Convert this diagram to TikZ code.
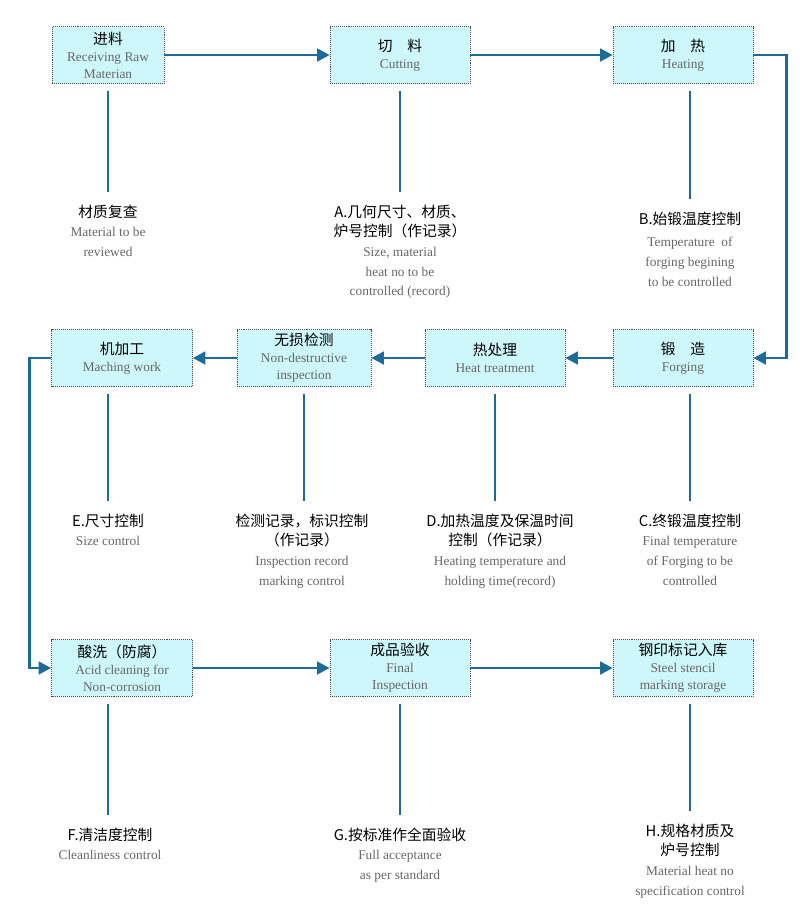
\documentclass[tikz,border=0pt]{standalone}
\usepackage{fontspec}
\setmainfont{Liberation Serif}
\newfontfamily\cjk{Noto Sans CJK SC}
\usetikzlibrary{arrows.meta}
\definecolor{boxfill}{HTML}{CDF7FA}
\definecolor{flow}{HTML}{1C6B98}
\definecolor{txtgray}{HTML}{666666}
\tikzset{
  stage/.style={draw=black!70, densely dotted, fill=boxfill, minimum height=57*0.025cm,
    align=center, inner sep=1pt, font=\fontsize{9.5}{12}\selectfont},
  note/.style={align=center, anchor=north, inner sep=1pt, font=\fontsize{9.5}{14}\selectfont},
  link/.style={flow, line width=2pt, -{Triangle[length=9pt,width=9pt]}},
  tick/.style={flow, line width=1pt}
}
\newcommand{\zh}[1]{{\cjk\fontsize{10.5}{13}\selectfont #1}}
\newcommand{\en}[1]{{\color{txtgray}#1}}
\begin{document}
\begin{tikzpicture}[x=0.025cm, y=-0.025cm]
\useasboundingbox (0,0) rectangle (800,910);

% row 1
\node[stage, minimum width=112*0.025cm] (raw) at (108,55) {\zh{进料}\\\en{Receiving Raw}\\\en{Materian}};
\node[stage, minimum width=140*0.025cm] (cut) at (400,55) {\zh{切\quad 料}\\\en{Cutting}};
\node[stage, minimum width=140*0.025cm] (heat) at (683,55) {\zh{加\quad 热}\\\en{Heating}};

% row 2
\node[stage, minimum width=141*0.025cm] (mach) at (122,358) {\zh{机加工}\\\en{Maching work}};
\node[stage, minimum width=134*0.025cm] (ndt) at (304,358) {\zh{无损检测}\\\en{Non-destructive}\\\en{inspection}};
\node[stage, minimum width=140*0.025cm] (treat) at (495,358) {\zh{热处理}\\\en{Heat treatment}};
\node[stage, minimum width=140*0.025cm] (forge) at (683,358) {\zh{锻\quad 造}\\\en{Forging}};

% row 3
\node[stage, minimum width=141*0.025cm] (acid) at (122,668) {\zh{酸洗（防腐）}\\\en{Acid cleaning for}\\\en{Non-corrosion}};
\node[stage, minimum width=140*0.025cm] (final) at (400,668) {\zh{成品验收}\\\en{Final}\\\en{Inspection}};
\node[stage, minimum width=140*0.025cm] (store) at (683,668) {\zh{钢印标记入库}\\\en{Steel stencil}\\\en{marking storage}};

% notes
\node[note] (n1) at (108,203) {\zh{材质复查}\\\en{Material to be}\\\en{reviewed}};
\node[note] (nA) at (400,203) {\zh{A.几何尺寸、材质、}\\\zh{炉号控制（作记录）}\\\en{Size, material}\\\en{heat no to be}\\\en{controlled (record)}};
\node[note] (nB) at (690,210) {\zh{B.始锻温度控制}\\[2pt]\en{Temperature\ \ of}\\\en{forging begining}\\\en{to be controlled}};
\node[note] (nE) at (108,512) {\zh{E.尺寸控制}\\\en{Size control}};
\node[note] (nI) at (302,512) {\zh{检测记录，标识控制}\\\zh{（作记录）}\\\en{Inspection record}\\\en{marking control}};
\node[note] (nD) at (500,512) {\zh{D.加热温度及保温时间}\\\zh{控制（作记录）}\\\en{Heating temperature and}\\\en{holding time(record)}};
\node[note] (nC) at (690,512) {\zh{C.终锻温度控制}\\\en{Final temperature}\\\en{of Forging to be}\\\en{controlled}};
\node[note] (nF) at (110,826) {\zh{F.清洁度控制}\\\en{Cleanliness control}};
\node[note] (nG) at (400,826) {\zh{G.按标准作全面验收}\\\en{Full acceptance}\\\en{as per standard}};
\node[note] (nH) at (690,822) {\zh{H.规格材质及}\\\zh{炉号控制}\\\en{Material heat no}\\\en{specification control}};

% flow
\draw[link] (raw) -- (cut);
\draw[link] (cut) -- (heat);
\draw[link] (heat.east) -- ++(33,0) |- (forge.east);
\draw[link] (forge) -- (treat);
\draw[link] (treat) -- (ndt);
\draw[link] (ndt) -- (mach);
\draw[link] (mach.west) -- ++(-22,0) |- (acid.west);
\draw[link] (acid) -- (final);
\draw[link] (final) -- (store);

% control lines
\foreach \b/\n in {raw/n1, cut/nA, ndt/nI, treat/nD, final/nG}
  \draw[tick] ([yshift=-5pt]\b.south) -- ([yshift=8pt]\b.south |- \n.north);
\foreach \b/\n in {heat/nB, forge/nC, store/nH}
  \draw[tick] ([xshift=7*0.025cm,yshift=-5pt]\b.south) -- ([yshift=8pt]\n.north);
\foreach \b/\n in {mach/nE, acid/nF}
  \draw[tick] ([xshift=-14*0.025cm,yshift=-5pt]\b.south) -- ([xshift=-14*0.025cm,yshift=8pt]\b.south |- \n.north);
\end{tikzpicture}
\end{document}
